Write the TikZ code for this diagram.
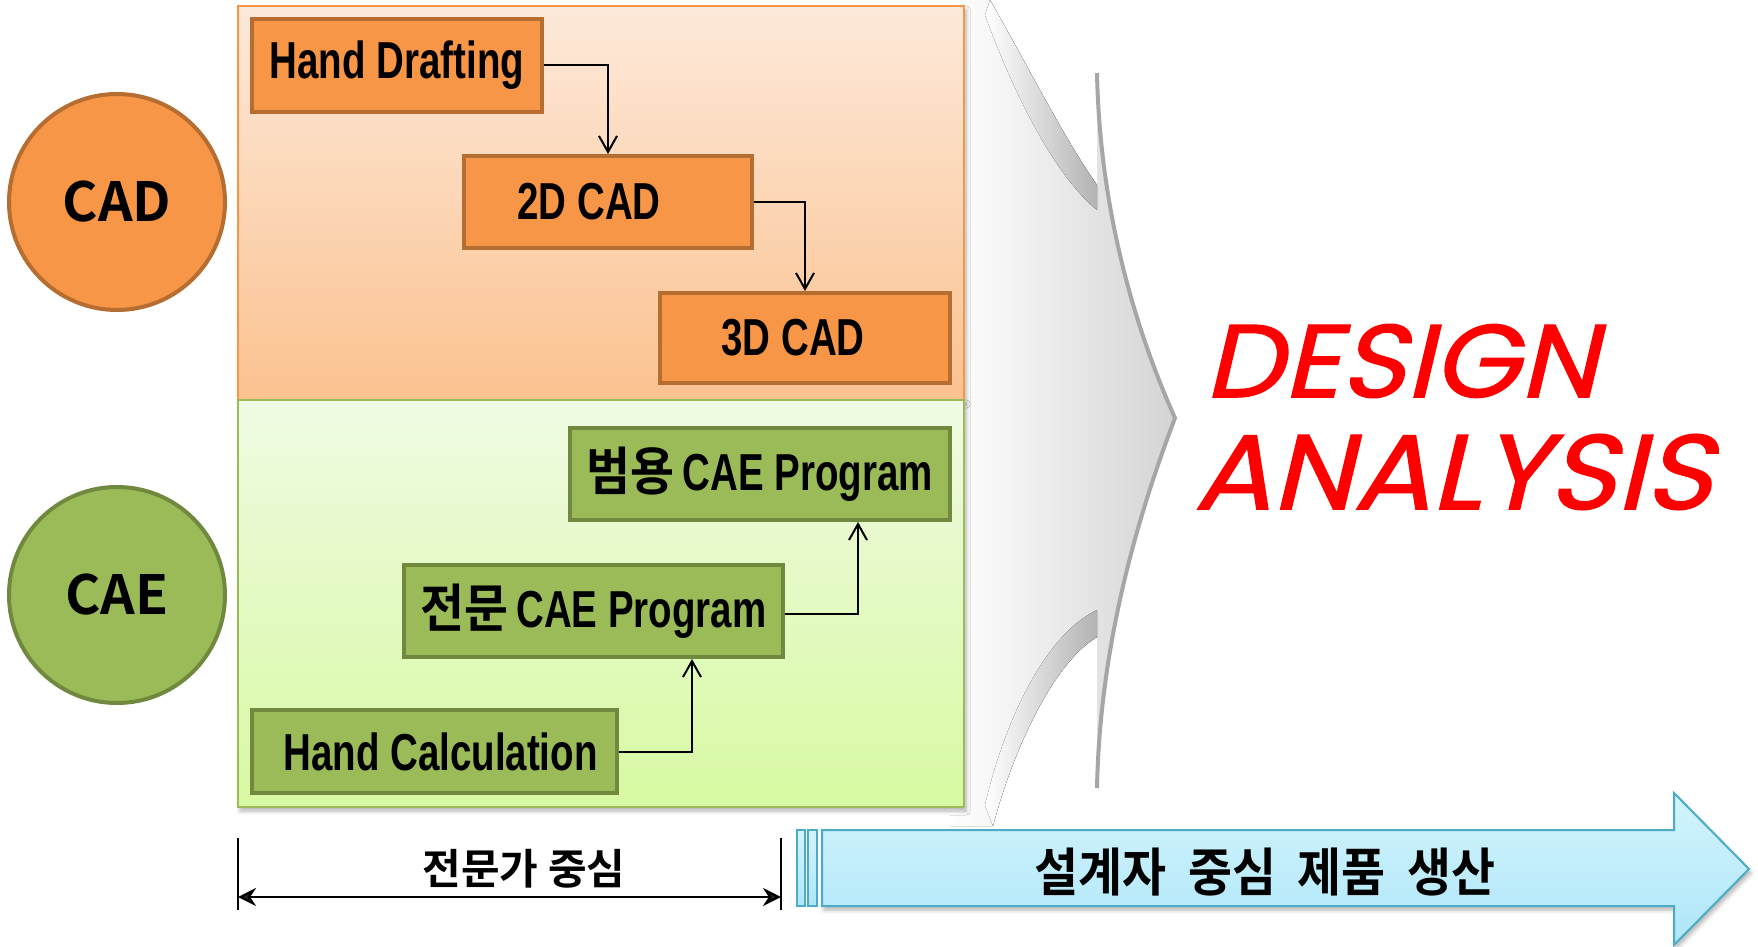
\documentclass[tikz,border=0pt]{standalone}
\usepackage{fontspec}
\setmainfont{Liberation Sans}
\newfontfamily\nar[FakeStretch=0.74]{Liberation Sans}
\newfontfamily\kr[FakeStretch=0.92,BoldFont={* Bold}]{Noto Sans CJK KR}
\newfontfamily\krw[BoldFont={* Bold}]{Noto Sans CJK KR}
\newfontfamily\hand[FakeSlant=0.22,FakeBold=1.2]{Poppins}
\usetikzlibrary{arrows.meta,calc,shadows.blur}
\definecolor{orfill}{HTML}{F79646}
\definecolor{ordraw}{HTML}{B66D31}
\definecolor{grfill}{HTML}{9BBB59}
\definecolor{grdraw}{HTML}{71893F}
\definecolor{orTop}{HTML}{FDE9DA}
\definecolor{orBot}{HTML}{FBC290}
\definecolor{grTop}{HTML}{EFFBE3}
\definecolor{grBot}{HTML}{D8F9A2}
\definecolor{blTop}{HTML}{D3F4FD}
\definecolor{blBot}{HTML}{AEE6F8}
\definecolor{bldraw}{HTML}{4BACC6}
\tikzset{
  boxtext/.style={inner sep=0pt, line width=2pt, font=\bfseries\fontsize{26}{30}\selectfont},
  cadbox/.style={boxtext, draw=ordraw, fill=orfill},
  caebox/.style={boxtext, draw=grdraw, fill=grfill},
  bigcirc/.style={circle, minimum size=108pt, line width=2pt, font=\krw\bfseries\fontsize{27}{30}\selectfont},
  link/.style={line width=1pt, -{Straight Barb[length=8pt,width=9pt,line width=1pt]}},
  panelshadow/.style={blur shadow={shadow blur steps=6, shadow xshift=1pt, shadow yshift=-2pt, shadow opacity=30}},
}
\begin{document}
\begin{tikzpicture}[x=0.5pt,y=-0.5pt]
\useasboundingbox (0,0) rectangle (1758,947);

% big grey chevron
\fill[left color=white, right color=black!17]
  (950,0) -- (990,0) .. controls (1030,70) and (1065,140) .. (1097,185)
  -- (1097,73) .. controls (1100,220) and (1140,340) .. (1175,418)
  .. controls (1140,510) and (1100,640) .. (1097,788)
  -- (1097,637) .. controls (1050,665) and (1010,760) .. (993,826)
  -- (950,826) -- cycle;
\fill[left color=white, right color=black!30]
  (990,0) .. controls (1030,70) and (1065,140) .. (1097,185)
  -- (1097,210) .. controls (1060,180) and (1020,110) .. (985,15) -- cycle;
\fill[left color=white, right color=black!30]
  (993,826) .. controls (1010,760) and (1050,665) .. (1097,637)
  -- (1097,610) .. controls (1045,635) and (1005,720) .. (985,805) -- cycle;
\draw[black!35, line width=2pt]
  (1097,73) .. controls (1100,220) and (1140,340) .. (1175,418)
  .. controls (1140,510) and (1100,640) .. (1097,788);

% panels
\draw[orfill, line width=0.7pt, top color=orTop, bottom color=orBot, panelshadow] (238,6) rectangle (964,400);
\draw[grfill, line width=1pt, top color=grTop, bottom color=grBot, panelshadow] (238,400) rectangle (964,807);

% circles
\node[bigcirc, fill=orfill, draw=ordraw] (cadc) at (117,202) {CAD};
\node[bigcirc, fill=grfill, draw=grdraw] (caec) at (117,595) {CAE};

% CAD boxes
\node[cadbox, minimum width=145pt, minimum height=46.5pt] (hd) at (397,65.5) {\nar Hand Drafting};
\node[cadbox, minimum width=144pt, minimum height=46pt] (cad2) at (608,202) {\nar 2D CAD\kern19pt};
\node[cadbox, minimum width=145pt, minimum height=45pt] (cad3) at (805,338) {\nar 3D CAD\kern12pt};

% CAE boxes
\node[caebox, minimum width=190pt, minimum height=46pt] (gen) at (760,474) {{\kr 범용}\kern4pt\nar CAE Program};
\node[caebox, minimum width=189.5pt, minimum height=46pt] (spec) at (593.5,611) {{\kr 전문}\kern4pt\nar CAE Program};
\node[caebox, minimum width=182.5pt, minimum height=41.5pt] (hc) at (434.5,751.5) {\kern6pt\nar Hand Calculation};

% connectors
\draw[link] (hd.east) -| (cad2.north);
\draw[link] (cad2.east) -| (cad3.north);
\draw[link] (hc.east) -| ($(spec.south)+(98.5,0)$);
\draw[link] ($(spec.east)+(0,3)$) -| ($(gen.south)+(98,0)$);

% DESIGN ANALYSIS
\node[red, inner sep=0pt, anchor=center] (design) at (1401,361) {\resizebox{196.5pt}{36.5pt}{\hand DESIGN}};
\node[red, inner sep=0pt, anchor=center] (analysis) at (1453,472) {\resizebox{259pt}{37.5pt}{\hand ANALYSIS}};

% dimension
\coordinate (dlt) at (238,838); \coordinate (dlb) at (238,910);
\coordinate (drt) at (781,838); \coordinate (drb) at (781,910);
\coordinate (dl) at (238,897); \coordinate (dr) at (781,897);
\draw[line width=0.8pt] (dlt) -- (dlb);
\draw[line width=0.8pt] (drt) -- (drb);
\draw[line width=1.2pt, {Stealth[length=9pt,width=9pt]}-{Stealth[length=9pt,width=9pt]}] (dl) -- (dr);
\node[inner sep=0pt, font=\krw\bfseries\fontsize{21}{24}\selectfont] (dimtext) at (524,869) {전문가 중심};

% blue arrow
\draw[bldraw, line width=1pt, top color=blTop, bottom color=blBot, blur shadow={shadow blur steps=5, shadow xshift=1pt, shadow yshift=-2pt, shadow opacity=30}]
  (822,830) -- (1674,830) -- (1674,793) -- (1749,869) -- (1674,945) -- (1674,906) -- (822,906) -- cycle;
\draw[bldraw, line width=1pt, top color=blTop, bottom color=blBot] (797,830) rectangle (805,906);
\draw[bldraw, line width=1pt, top color=blTop, bottom color=blBot] (808,830) rectangle (817,906);
\node[inner sep=0pt, font=\kr\bfseries\fontsize{26}{29}\selectfont] (prod) at (1265,872) {설계자\hspace{0.42em}중심\hspace{0.42em}제품\hspace{0.42em}생산};
\end{tikzpicture}
\end{document}
